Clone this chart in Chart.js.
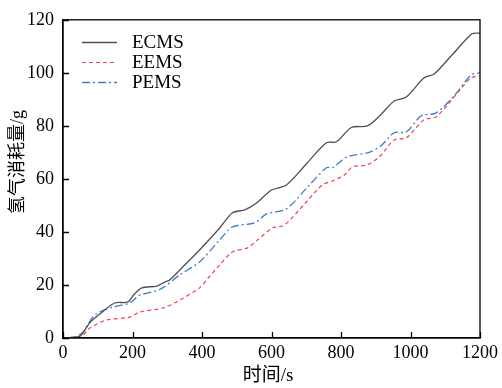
<!DOCTYPE html>
<html>
<head>
<meta charset="utf-8">
<script src="https://cdn.jsdelivr.net/npm/chart.js@4/dist/chart.umd.min.js"></script>
<style>
  html, body { margin: 0; padding: 0; background: #fff; }
  #wrap { width: 502px; height: 388px; }
</style>
</head>
<body>
<div id="wrap"><canvas id="fuelChart"></canvas></div>
<script>
// 坐标轴刻度
var xTicks = [0, 200, 400, 600, 800, 1000, 1200];
var yTicks = [0, 20, 40, 60, 80, 100, 120];

// ECMS 曲线
var ecmsTime = [0, 30, 50, 77, 110, 149, 187, 205, 227, 270, 293, 307, 350, 393, 451, 488, 523, 557, 600, 643, 700, 758, 787, 830, 876, 910, 953, 988, 1039, 1068, 1120, 1177, 1200];
var ecmsFuel = [0, 0.3, 0.8, 5.7, 9.5, 13.2, 13.6, 16.5, 18.9, 19.6, 21.1, 21.9, 27.5, 33.2, 41.5, 47.2, 48.3, 50.9, 55.8, 57.7, 65.6, 73.6, 74, 79.4, 80, 83.6, 89.4, 90.9, 98.1, 99.6, 106.8, 114.7, 115];

// EEMS 曲线
var eemsTime = [0, 30, 57, 75, 92, 126, 192, 221, 287, 336, 393, 413, 451, 488, 531, 560, 603, 637, 700, 746, 775, 810, 833, 876, 910, 953, 988, 1039, 1074, 1130, 1174, 1200];
var eemsFuel = [0, 0.2, 1.1, 3.5, 4.9, 6.8, 7.9, 9.8, 11.3, 14.3, 18.9, 21.9, 27.5, 32.5, 34, 37, 41.5, 42.6, 51.3, 57.7, 59.2, 61.5, 64.5, 65.3, 68.3, 74.7, 75.5, 82.3, 83.4, 91.6, 98.1, 98.9];

// PEMS 曲线
var pemsTime = [0, 30, 55, 92, 144, 192, 221, 258, 287, 336, 393, 451, 488, 551, 586, 643, 700, 758, 775, 818, 881, 916, 953, 988, 1031, 1074, 1130, 1174, 1200];
var pemsFuel = [0, 0.3, 1.9, 8.7, 11.7, 13.2, 16.2, 17.4, 18.9, 23.8, 28.7, 37, 41.9, 43.4, 46.8, 48.7, 56.4, 64.2, 64.2, 68.3, 70, 72.6, 77.4, 77.7, 83.8, 84.9, 92, 99.2, 100];

function pairs(xs, ys) {
    return xs.map(function (x, i) { return { x: x, y: ys[i] }; });
}

var serif = "'Liberation Serif', 'Times New Roman', 'Noto Sans CJK SC', serif";

// 内向刻度 + 四周边框
var frameTicks = {
    id: 'frameTicks',
    afterDraw: function (chart) {
        var ctx = chart.ctx, a = chart.chartArea;
        var xs = chart.scales.x, ys = chart.scales.y;
        ctx.save();
        ctx.strokeStyle = '#000';
        ctx.lineWidth = 1.3;
        ctx.strokeRect(a.left, a.top, a.right - a.left, a.bottom - a.top);
        ctx.beginPath();
        xTicks.forEach(function (v) {
            var px = Math.round(xs.getPixelForValue(v)) + 0.5;
            ctx.moveTo(px, a.bottom);
            ctx.lineTo(px, a.bottom - 6);
        });
        yTicks.forEach(function (v) {
            var py = Math.round(ys.getPixelForValue(v)) + 0.5;
            ctx.moveTo(a.left, py);
            ctx.lineTo(a.left + 6, py);
        });
        ctx.stroke();

        // 轴标题
        ctx.fillStyle = '#000';
        ctx.font = '19px ' + serif;
        ctx.textAlign = 'center';
        ctx.textBaseline = 'middle';
        ctx.fillText('时间/s', 268, 376);
        ctx.font = '18px ' + serif;
        ctx.translate(18, 162);
        ctx.rotate(-Math.PI / 2);
        ctx.fillText('氢气消耗量/g', 0, 0);
        ctx.restore();
    }
};

// 图例（左上角，图内）
var innerLegend = {
    id: 'innerLegend',
    afterDatasetsDraw: function (chart) {
        var ctx = chart.ctx;
        ctx.save();
        ctx.font = '19px ' + serif;
        ctx.textBaseline = 'middle';
        chart.data.datasets.forEach(function (ds, i) {
            var y = 42 + i * 20;
            ctx.strokeStyle = ds.borderColor;
            ctx.lineWidth = ds.borderWidth;
            ctx.setLineDash(ds.borderDash || []);
            ctx.beginPath();
            ctx.moveTo(82, y + 0.5);
            ctx.lineTo(117, y + 0.5);
            ctx.stroke();
            ctx.setLineDash([]);
            ctx.fillStyle = '#000';
            ctx.fillText(ds.label, 132, y + 1);
        });
        ctx.restore();
    }
};

var ctx = document.getElementById('fuelChart').getContext('2d');
var fuelChart = new Chart(ctx, {
    type: 'line',
    data: {
        datasets: [{
            label: 'ECMS',
            data: pairs(ecmsTime, ecmsFuel),
            borderColor: '#505050',
            borderWidth: 1.3,
            pointRadius: 0,
            tension: 0.3
        }, {
            label: 'EEMS',
            data: pairs(eemsTime, eemsFuel),
            borderColor: '#e8474c',
            borderWidth: 1.2,
            borderDash: [4, 3],
            pointRadius: 0,
            tension: 0.3
        }, {
            label: 'PEMS',
            data: pairs(pemsTime, pemsFuel),
            borderColor: '#3d7cc9',
            borderWidth: 1.3,
            borderDash: [8, 3, 2, 3],
            pointRadius: 0,
            tension: 0.3
        }]
    },
    options: {
        responsive: true,
        maintainAspectRatio: false,
        animation: false,
        layout: { padding: { top: 19, right: 21, left: 0, bottom: 0 } },
        plugins: {
            legend: { display: false },
            tooltip: { enabled: false }
        },
        scales: {
            x: {
                type: 'linear',
                min: 0,
                max: 1200,
                afterBuildTicks: function (s) { s.ticks = xTicks.map(function (v) { return { value: v }; }); },
                afterFit: function (s) { s.height = 50; },
                grid: { display: false, drawTicks: false },
                border: { display: true, color: '#000', width: 1.3 },
                ticks: {
                    color: '#000', padding: 4, maxRotation: 0,
                    font: { family: serif, size: 18 },
                    callback: function (v) { return String(v); }
                }
            },
            y: {
                min: 0,
                max: 120,
                afterBuildTicks: function (s) { s.ticks = yTicks.map(function (v) { return { value: v }; }); },
                afterFit: function (s) { s.width = 63; },
                grid: { display: false, drawTicks: false },
                border: { display: true, color: '#000', width: 1.3 },
                ticks: {
                    color: '#000', padding: 9,
                    font: { family: serif, size: 18 },
                    callback: function (v) { return String(v); }
                }
            }
        }
    },
    plugins: [frameTicks, innerLegend]
});
</script>
</body>
</html>
